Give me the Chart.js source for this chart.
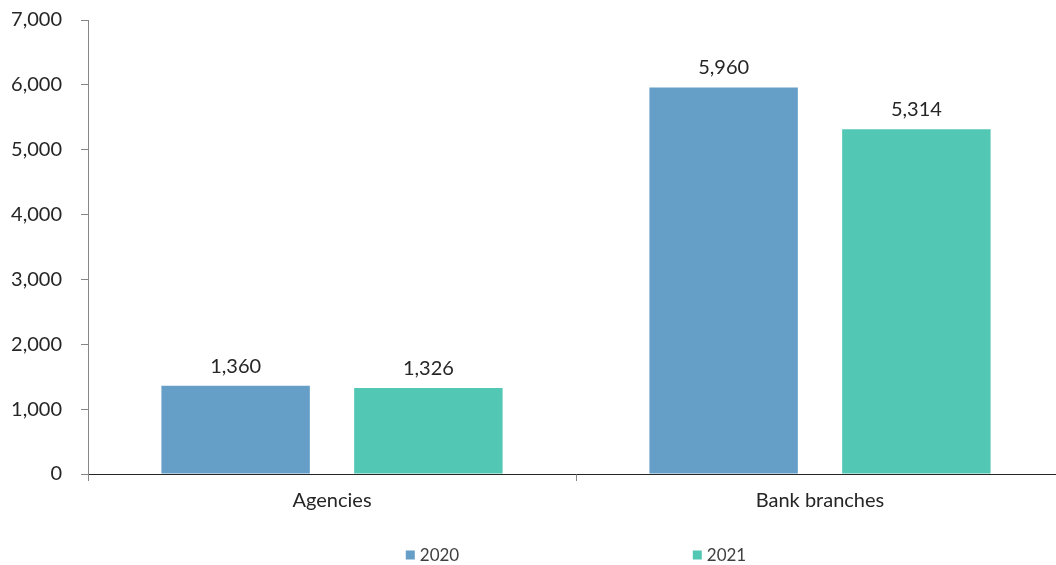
<!DOCTYPE html>
<html>
<head>
<meta charset="utf-8">
<script src="https://cdn.jsdelivr.net/npm/chart.js@4.4.1/dist/chart.umd.min.js"></script>
<style>
  html, body { margin: 0; padding: 0; background: #fff; overflow: hidden; }
  #wrap { width: 1072px; height: 565px; position: relative; }
</style>
</head>
<body>
<div id="wrap"><canvas id="chartOffices"></canvas></div>
<script>
const categories = ["Agencies", "Bank branches"];
const seriesNames = ["2020", "2021"];
const values2020 = [1360, 5960];
const values2021 = [1326, 5314];
const yTickMax = 7000;
const yTickStep = 1000;

const FONT = "Lato, 'DejaVu Sans', sans-serif";
const INK = "#262626";
const COLORS = { y2020: "#659fc7", y2021: "#51c7b4", axis: "#868686" };

const fmt = v => v.toLocaleString("en-US");

// value labels above each bar
const barValues = {
  id: "barValues",
  afterDatasetsDraw(chart) {
    const { ctx } = chart;
    ctx.save();
    ctx.font = `20px ${FONT}`;
    ctx.fillStyle = INK;
    ctx.textAlign = "center";
    ctx.textBaseline = "alphabetic";
    chart.data.datasets.forEach((ds, i) => {
      chart.getDatasetMeta(i).data.forEach((bar, j) => {
        ctx.fillText(fmt(ds.data[j]), bar.x, bar.y - 13);
      });
    });
    ctx.restore();
  }
};

// legend with wide spacing between the two entries
const spreadLegend = {
  id: "spreadLegend",
  afterDraw(chart) {
    const { ctx, chartArea } = chart;
    const box = 9, textGap = 5, itemGap = 287;
    const y = chartArea.bottom + 81;
    ctx.save();
    ctx.font = `17px ${FONT}`;
    ctx.textBaseline = "middle";
    ctx.textAlign = "left";
    const ds = chart.data.datasets;
    const lastW = box + textGap + ctx.measureText(ds[ds.length - 1].label).width;
    let x = (chartArea.left + chartArea.right) / 2 - (itemGap * (ds.length - 1) + lastW) / 2;
    ds.forEach(d => {
      ctx.fillStyle = d.backgroundColor;
      ctx.fillRect(x, y - box / 2, box, box);
      ctx.fillStyle = "#404040";
      ctx.fillText(d.label, x + box + textGap, y + 1);
      x += itemGap;
    });
    ctx.restore();
  }
};

const ctx = document.getElementById("chartOffices").getContext("2d");
new Chart(ctx, {
  type: "bar",
  data: {
    labels: categories,
    datasets: [
      { label: seriesNames[0], data: values2020, backgroundColor: COLORS.y2020 },
      { label: seriesNames[1], data: values2021, backgroundColor: COLORS.y2021 }
    ]
  },
  options: {
    responsive: true,
    maintainAspectRatio: false,
    animation: false,
    categoryPercentage: 0.79,
    barPercentage: 0.77,
    layout: { padding: { top: 20, right: 8, bottom: 0, left: 0 } },
    plugins: {
      legend: { display: false },
      tooltip: { enabled: false }
    },
    scales: {
      x: {
        grid: { drawOnChartArea: false, tickLength: 7, tickColor: COLORS.axis, offset: true },
        border: { color: INK, width: 1 },
        ticks: { color: INK, padding: 8, font: { family: FONT, size: 20 } },
        afterFit: s => { s.height = 91; }
      },
      y: {
        min: 0,
        max: yTickMax,
        grid: { drawOnChartArea: false, tickLength: 7, tickColor: COLORS.axis },
        border: { color: COLORS.axis, width: 1 },
        ticks: {
          stepSize: yTickStep,
          color: INK,
          padding: 19,
          font: { family: FONT, size: 20 },
          callback: v => fmt(v)
        },
        afterFit: s => {
          s.width = 88;
          s.paddingTop = 0;
          s.paddingBottom = 0;
        }
      }
    }
  },
  plugins: [barValues, spreadLegend]
});
</script>
</body>
</html>
